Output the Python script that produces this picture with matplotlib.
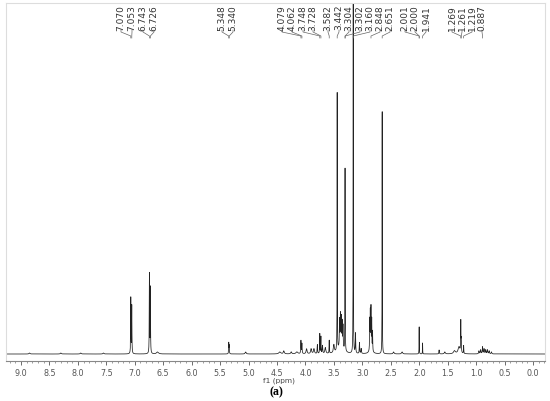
import numpy as np
import matplotlib
matplotlib.use('Agg')
import matplotlib.pyplot as plt
from matplotlib.ticker import MultipleLocator

# peak list: shift (ppm), height, half width (ppm)
peak_ppm = [8.85, 8.30, 7.95, 7.55,
            7.070, 7.053, 6.743, 6.726, 6.60,
            5.348, 5.340, 5.05,
            4.45, 4.38, 4.25, 4.15,
            4.079, 4.062, 3.98, 3.90, 3.85,
            3.790, 3.748, 3.728, 3.700, 3.65, 3.582, 3.50,
            3.442, 3.40, 3.385, 3.37, 3.355, 3.34, 3.38,
            3.304, 3.302, 3.160, 3.12, 3.05, 3.02,
            2.87, 2.86, 2.848, 2.835, 2.82, 2.85,
            2.651, 2.45, 2.30,
            2.001, 2.000, 1.941,
            1.65, 1.55, 1.38, 1.30, 1.269, 1.261, 1.219,
            0.95, 0.92, 0.887, 0.86, 0.83, 0.80, 0.77, 0.73]
peak_height = [1, 1, 1, 1,
               56, 48, 80, 66, 2,
               11, 8, 2,
               2, 3, 2, 2,
               13, 10, 5, 5, 5,
               9, 20, 17, 8, 6, 13, 8,
               258, 26, 30, 27, 24, 22, 8,
               162, 40, 420, 20, 11, 5,
               30, 37, 41, 30, 20, 4,
               249, 2, 2,
               24, 4, 11,
               4, 2, 3, 7, 31, 12, 8,
               3, 4, 7, 5, 4, 4, 3, 2]
peak_width = [0.01, 0.01, 0.01, 0.01,
              0.003, 0.003, 0.003, 0.003, 0.02,
              0.003, 0.003, 0.01,
              0.02, 0.01, 0.01, 0.02,
              0.004, 0.004, 0.01, 0.01, 0.01,
              0.004, 0.003, 0.003, 0.005, 0.01, 0.003, 0.01,
              0.002, 0.004, 0.004, 0.004, 0.004, 0.004, 0.05,
              0.002, 0.002, 0.002, 0.004, 0.004, 0.005,
              0.003, 0.003, 0.003, 0.003, 0.003, 0.03,
              0.002, 0.01, 0.01,
              0.002, 0.002, 0.002,
              0.004, 0.01, 0.02, 0.02, 0.003, 0.003, 0.003,
              0.006, 0.006, 0.005, 0.006, 0.006, 0.006, 0.006, 0.006]

# annotated shifts and x position of their labels (figure pixels)
label_ppm = [7.070, 7.053, 6.743, 6.726, 5.348, 5.340,
             4.079, 4.062, 3.748, 3.728, 3.582, 3.442, 3.304, 3.302, 3.160,
             2.848, 2.651, 2.001, 2.000, 1.941, 1.269, 1.261, 1.219, 0.887]
label_x = [121, 132, 143, 154, 222, 233,
           282, 292, 303, 313, 328, 339, 349, 360, 370,
           380, 390, 405, 415, 426, 452, 462, 472, 482]

ppm = np.linspace(-0.3, 9.4, 12000)
spec = np.zeros_like(ppm)
for p, h, w in zip(peak_ppm, peak_height, peak_width):
    spec += h * w**2 / ((ppm - p)**2 + w**2)

W, H = 550, 402
fig = plt.figure(figsize=(5.5, 4.02), dpi=100)
ax = fig.add_axes([6 / W, (H - 362) / H, 539 / W, 358 / H])
ax.plot(ppm, spec, color='#222222', lw=0.55)
ax.set_xlim(9.264, -0.211)
ax.set_ylim(-7, 351)
ax.set_yticks([])
ax.xaxis.set_major_locator(MultipleLocator(0.5))
ax.xaxis.set_minor_locator(MultipleLocator(0.1))
ax.xaxis.set_major_formatter(matplotlib.ticker.FormatStrFormatter('%.1f'))
ax.tick_params(axis='x', which='major', length=3, width=0.6, labelsize=5.8,
               colors='#555555', pad=2)
ax.tick_params(axis='x', which='minor', length=1.5, width=0.5, colors='#777777')
for s in ['top', 'left', 'right']:
    ax.spines[s].set_color('#dddddd')
    ax.spines[s].set_linewidth(0.8)
ax.spines['bottom'].set_color('#888888')
ax.spines['bottom'].set_linewidth(0.8)

fig.text(279 / W, 1 - 381 / H, 'f1 (ppm)', fontsize=5.3, color='#444444',
         ha='center', va='center')
fig.text(276 / W, 1 - 392 / H, '(a)', fontsize=8.5, fontweight='bold',
         family='Liberation Serif', ha='center', va='center')

# peak labels with leader lines
inv = fig.transFigure.inverted()
for p, lx in zip(label_ppm, label_x):
    fx = lx / W
    px = inv.transform(ax.transData.transform((p, 0)))[0]
    fig.text(fx, 1 - 5 / H, '%.3f' % p, rotation=90, fontsize=6.5,
             color='#333333', ha='center', va='top')
    ys = [1 - 31 / H, 1 - 33 / H, 1 - 37 / H, 1 - 39 / H]
    fig.add_artist(plt.Line2D([fx, fx, px, px], ys, transform=fig.transFigure,
                              color='#666666', lw=0.5))

fig.savefig('out.png', dpi=100)
